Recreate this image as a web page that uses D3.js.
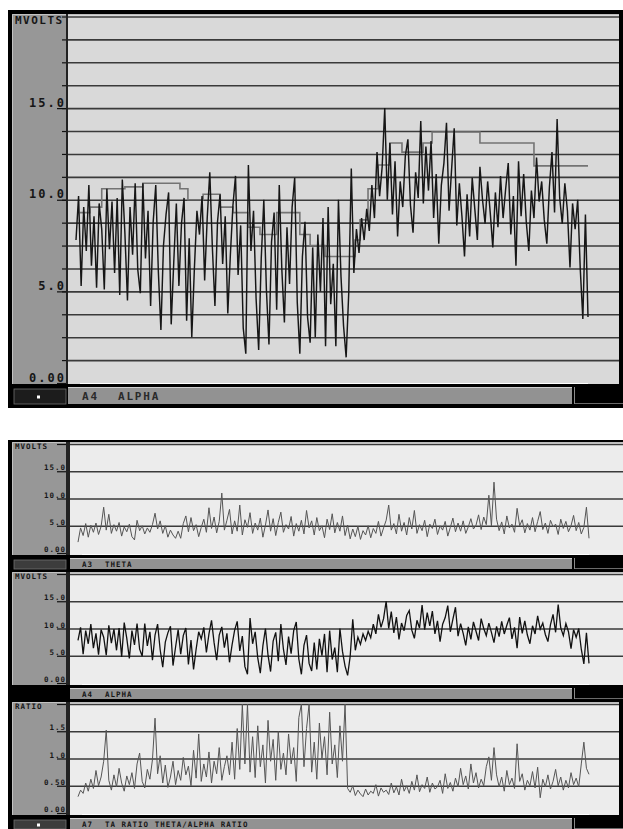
<!DOCTYPE html>
<html lang="en">
<head>
<meta charset="UTF-8" />
<title>EEG trend - A4 alpha, A3 theta, A7 ratio</title>
<script src="https://d3js.org/d3.v7.min.js"></script>
<style>
  body { margin: 0; background: #fff; }
  svg { display: block; font-family: 'DejaVu Sans Mono', monospace; }
  .lbl { fill: #161616; font-weight: bold; white-space: pre; }
</style>
</head>
<body>
<svg id="chart"></svg>
<script>
// ---- data (one value per sample) ----
const alpha = [
  7.8, 10.2, 5.3, 9.6, 7.2, 10.8, 6.4, 9.1, 5.2, 9.8,
  8.4, 5.1, 10.6, 7.3, 9.9, 6.0, 10.1, 4.8, 11.1, 8.2, 4.5, 9.6, 7.0, 10.9, 6.2,
  4.9, 10.9, 6.8, 9.4, 4.2, 8.8, 10.8, 6.1, 2.9, 7.5, 9.2, 10.4, 3.2, 6.6, 9.8, 5.3, 8.7, 10.1, 3.4, 7.9, 2.5, 6.2, 9.4,
  8.1, 10.2, 5.6, 9.0, 11.5, 7.4, 4.2, 8.8, 10.3, 6.5, 9.1, 3.8, 7.0, 9.7, 11.3, 5.9,
  8.6, 3.0, 1.6, 11.9, 7.2, 9.4, 4.6, 1.8, 6.8, 10.0, 5.1, 2.1, 7.7, 9.3, 4.0, 10.8, 6.2, 3.3, 8.5, 5.4,
  9.6, 11.2, 4.4, 1.6, 6.9, 8.8, 3.6, 2.2, 7.4, 2.5, 8.1, 5.0, 9.0, 2.0, 9.6, 4.3, 6.5, 2.0, 10.0, 5.8, 3.1, 1.4, 4.9,
  11.7, 6.0, 8.4, 7.1, 9.0, 7.8,
  9.5, 8.3, 10.8, 9.0, 12.6, 10.2, 11.8, 15.0, 10.0, 13.1, 9.2, 12.1, 8.0, 11.0, 9.6, 12.4, 13.3, 9.7, 8.2, 11.5, 10.1,
  14.3, 9.8, 12.9, 10.5, 13.2, 9.0, 11.4, 7.6, 10.8, 12.0, 14.2, 9.4, 11.7, 13.9, 8.6, 10.9, 9.1, 6.9, 10.3, 8.0,
  11.2, 9.5, 7.8, 11.8, 10.0, 8.7, 11.0, 9.3, 7.4, 10.4, 8.5, 11.3, 9.0, 10.6, 12.0, 8.1, 10.2, 6.4, 12.1, 9.1,
  11.4, 8.8, 7.2, 10.5, 9.0, 12.3, 9.9,
  11.0, 8.9, 7.6, 10.7, 12.6, 9.3, 14.4, 10.1, 8.7, 10.9, 9.4, 6.3, 9.8, 8.4, 10.0, 6.2, 3.5, 9.2, 3.6
];

const theta = [
  2.0, 4.6, 3.2, 5.4, 2.9, 5.1, 3.8, 5.5, 3.4, 4.9,
  8.4, 4.2, 7.1, 3.6, 5.2, 4.0, 5.6, 3.1, 4.8, 3.9,
  5.3, 3.0, 2.4, 6.0, 4.1, 5.0, 3.5, 4.6, 3.8, 5.2,
  7.3, 4.4, 5.9, 3.6, 5.0, 2.9, 4.2, 3.3, 2.7, 4.0,
  2.7, 5.4, 6.8, 3.9, 6.5, 4.1, 5.2, 3.0, 4.7, 6.2,
  3.8, 8.3, 4.5, 6.6, 3.7, 5.8, 11.0, 4.2, 6.0, 8.0,
  3.5, 5.9, 4.0, 8.8, 3.3, 6.1, 4.7, 7.4, 3.6, 5.5,
  4.2, 6.4, 2.9, 5.1, 7.9, 4.0, 6.3, 3.2, 5.6, 7.5,
  3.8, 5.2, 4.4, 6.7, 3.1, 5.4, 4.0, 6.0, 3.5, 7.8,
  4.6, 5.9, 3.3, 6.5, 4.1, 5.0, 2.8, 6.2, 4.3, 7.2,
  3.7, 5.6, 4.0, 6.8, 3.2, 5.1, 2.6, 4.4, 3.0, 4.9,
  2.5, 4.1, 3.3, 5.0, 2.8, 4.5, 3.6, 5.8, 3.1, 4.6,
  6.0, 8.8, 4.2, 5.4, 3.5, 7.1, 4.0, 5.6, 3.3, 6.5,
  4.4, 7.8, 3.6, 5.2, 4.1, 6.0, 3.0, 5.3, 4.5, 6.2,
  3.4, 5.0, 4.2, 5.8, 3.1, 4.7, 6.4, 3.9, 5.5, 4.0,
  5.9, 3.6, 4.8, 6.3, 4.4, 5.1, 7.0, 4.3, 6.6, 5.2,
  10.6, 5.0, 13.0, 6.2, 4.1, 5.7, 3.5, 6.8, 4.6, 5.3,
  3.8, 8.2, 5.0, 6.1, 3.7, 5.4, 4.2, 6.5, 3.9, 5.8,
  7.6, 4.3, 5.5, 3.6, 6.0, 4.8, 5.3, 3.4, 6.2, 4.5,
  5.8, 3.9, 5.0, 6.9, 4.1, 5.6, 3.5, 4.7, 8.4, 2.7
];

const ratio = [
  0.30, 0.42, 0.36, 0.55, 0.40, 0.62, 0.45, 0.78, 0.50, 0.66,
  0.95, 1.52, 0.60, 0.42, 0.70, 0.48, 0.82, 0.55, 0.40, 0.68,
  0.52, 0.74, 0.45, 0.90, 1.10, 0.58, 0.46, 0.80, 0.62, 0.98,
  1.74, 0.72, 1.05, 0.55, 0.88, 0.47, 0.66, 0.95, 0.52, 0.78,
  0.60, 1.02, 0.70, 0.86, 0.50, 1.15, 0.64, 1.45, 0.58, 0.90,
  0.66, 1.12, 0.55, 0.95, 0.72, 1.20, 0.60, 0.85, 1.05, 0.70,
  1.30, 0.62, 1.55, 0.80, 2.00, 0.90, 2.00, 0.75, 1.40, 0.65,
  1.60, 0.85, 1.25, 0.55, 1.70, 0.95, 1.35, 0.60, 1.50, 0.80,
  1.10, 0.70, 1.45, 0.90, 1.20, 0.58, 1.75, 2.00, 0.85, 1.55,
  2.00, 0.75, 1.30, 0.62, 1.65, 1.00, 1.40, 0.70, 1.85, 0.90,
  1.25, 0.65, 1.60, 0.95, 2.00, 0.45, 0.38, 0.50, 0.32, 0.42,
  0.35, 0.30, 0.44, 0.33, 0.40, 0.36, 0.52, 0.31, 0.46, 0.38,
  0.42, 0.34, 0.55, 0.37, 0.48, 0.33, 0.62, 0.40, 0.50, 0.36,
  0.58, 0.42, 0.70, 0.39, 0.52, 0.45, 0.66, 0.38, 0.55, 0.44,
  0.48, 0.60, 0.36, 0.72, 0.45, 0.56, 0.40, 0.64, 0.48, 0.82,
  0.52, 0.68, 0.44, 0.90, 0.55, 0.74, 0.46, 0.62, 0.50, 0.85,
  1.03, 0.60, 1.20, 0.70, 0.48, 0.66, 0.40, 0.78, 0.52, 0.64,
  0.45, 1.27, 0.58, 0.72, 0.42, 0.60, 0.50, 0.76, 0.46, 0.84,
  0.28, 0.62, 0.48, 0.70, 0.44, 0.58, 0.80, 0.50, 0.66, 0.42,
  0.60, 0.46, 0.74, 0.52, 0.64, 0.48, 0.90, 1.30, 0.82, 0.71
];

// gray trend line in the big panel: sample index where each level starts, and its value
const stepStart = [1.5, 5.4, 10, 19, 26, 40.4, 43.5, 49.4, 56, 61, 66.8, 71.5, 78, 87, 91, 96.8,
                   108.4, 110.4, 113.5, 117.4, 122, 126.7, 134.9, 138.4, 157, 178];
const stepValue = [9.3, 9.6, 10.6, 10.7, 10.9, 10.6, 10.0, 10.3, 9.6, 9.3, 8.5, 8.1, 9.3, 8.1, 7.5, 6.9,
                   7.8, 8.9, 10.6, 11.9, 13.1, 12.6, 13.1, 13.7, 13.1, 11.85];

const mvTickValues = [0, 5, 10, 15];
const mvTickLabels = ["0.00", "5.0", "10.0", "15.0"];
const ratioTickValues = [0, 0.5, 1, 1.5];
const ratioTickLabels = ["0.00", "0.50", "1.0", "1.5"];

const N = alpha.length;
const svg = d3.select("#chart").attr("width", 623).attr("height", 829);

const line = (x, y) => d3.line().x((d, i) => x(i)).y(d => y(d));

function drawPanel(p) {
  const g = svg.append("g");
  const y = d3.scaleLinear().domain(p.domain).range([p.yZero, p.yTop]);
  const x = d3.scaleLinear().domain([0, N - 1]).range(p.dataRange);

  // frame
  g.append("rect").attr("x", 8).attr("y", p.top).attr("width", 615).attr("height", p.height).attr("fill", "#000");

  // axis panel
  g.append("rect").attr("x", 12).attr("y", p.plotTop).attr("width", 54)
    .attr("height", p.plotBottom - p.plotTop).attr("fill", "#979797");
  g.append("path").attr("d", `M12.5,${p.plotBottom} V${p.plotTop + 0.5} H66`)
    .attr("stroke", "#c2c2c2").attr("fill", "none");

  // plot background
  g.append("rect").attr("x", p.x0).attr("y", p.plotTop).attr("width", p.x1 - p.x0)
    .attr("height", p.plotBottom - p.plotTop).attr("fill", p.bg);
  g.append("line").attr("x1", p.x0).attr("x2", p.x1).attr("y1", p.plotTop + 0.5).attr("y2", p.plotTop + 0.5)
    .attr("stroke", "#bdbdbd");

  // grid
  const grid = g.append("g").attr("transform", `translate(${p.x0},0)`)
    .call(d3.axisRight(y).tickValues(p.grid).tickSize(p.x1 - p.x0).tickFormat(""));
  grid.select(".domain").remove();
  grid.selectAll("line").attr("stroke", "#3a3a3a").attr("stroke-width", p.gridWidth);

  // separator between axis panel and plot
  g.append("rect").attr("x", 66).attr("y", p.plotTop).attr("width", p.x0 - 66)
    .attr("height", p.plotBottom - p.plotTop).attr("fill", "#222");

  // ticks
  const minor = g.append("g").attr("transform", "translate(66,0)")
    .call(d3.axisLeft(y).tickValues(p.minor).tickSize(4).tickFormat(""));
  minor.select(".domain").remove();
  minor.selectAll("line").attr("stroke", "#111").attr("stroke-width", 1.2);

  const major = g.append("g").attr("transform", "translate(66,0)")
    .call(d3.axisLeft(y).tickValues(p.tickValues).tickSize(9).tickFormat((d, i) => p.tickLabels[i]));
  major.select(".domain").remove();
  major.selectAll("line").attr("stroke", "#111").attr("stroke-width", 1.2);
  major.selectAll("text").attr("class", "lbl").attr("x", 0).attr("dy", -p.lift)
    .attr("text-anchor", "end").attr("font-size", p.font).attr("letter-spacing", p.spacing)
    .attr("font-family", "'DejaVu Sans Mono', monospace");

  g.append("text").attr("class", "lbl").attr("x", 15).attr("y", p.unitY)
    .attr("font-size", p.unitFont).attr("letter-spacing", p.unitSpacing).text(p.unit);

  // traces
  const clipId = "clip" + p.top;
  g.append("clipPath").attr("id", clipId).append("rect")
    .attr("x", p.x0).attr("y", p.plotTop + 1).attr("width", p.x1 - p.x0).attr("height", p.plotBottom - p.plotTop - 1);
  const traces = g.append("g").attr("clip-path", `url(#${clipId})`);

  if (p.step) {
    const pts = stepStart.map((s, k) => [s, stepValue[k]]);
    pts.push([N - 1, stepValue[stepValue.length - 1]]);
    traces.append("path").datum(pts)
      .attr("d", d3.line().x(d => x(d[0])).y(d => y(d[1])).curve(d3.curveStepAfter))
      .attr("fill", "none").attr("stroke", "#747474").attr("stroke-width", 1.6);
  }
  traces.append("path").datum(p.values).attr("d", line(x, y))
    .attr("fill", "none").attr("stroke", p.color).attr("stroke-width", p.width)
    .attr("stroke-linejoin", "miter");

  // bottom edge of plot
  g.append("line").attr("x1", p.x0 + 12).attr("x2", x(N - 1)).attr("y1", p.plotBottom - 0.5).attr("y2", p.plotBottom - 0.5)
    .attr("stroke", "#fff");

  if (p.rightBorder) {
    g.append("rect").attr("x", 619).attr("y", p.top).attr("width", 4).attr("height", p.plotBottom - p.top).attr("fill", "#000");
  }

  // channel bar
  g.append("rect").attr("x", p.x0).attr("y", p.barY).attr("width", 572 - p.x0).attr("height", p.barH).attr("fill", "#929292");
  g.append("line").attr("x1", p.x0).attr("x2", 572).attr("y1", p.barY + 0.5).attr("y2", p.barY + 0.5).attr("stroke", "#d0d0d0");
  g.append("line").attr("x1", 574.5).attr("x2", 574.5).attr("y1", p.barY).attr("y2", p.barY + p.barH).attr("stroke", "#8a8a8a");
  g.append("line").attr("x1", 575).attr("x2", 623).attr("y1", p.barY + p.barH - 0.5).attr("y2", p.barY + p.barH - 0.5).attr("stroke", "#6a6a6a");
  g.append("text").attr("class", "lbl").attr("x", 82).attr("y", p.barY + p.barTextY)
    .attr("font-size", p.barFont).attr("letter-spacing", p.barSpacing).attr("font-weight", p.barWeight)
    .style("fill", p.barColor).text(p.code);
  g.append("text").attr("class", "lbl").attr("x", p.nameX).attr("y", p.barY + p.barTextY)
    .attr("font-size", p.barFont).attr("letter-spacing", p.barSpacing).attr("font-weight", p.barWeight)
    .style("fill", p.barColor).text(p.name);

  // status box under the axis panel
  if (p.boxFill) {
    g.append("rect").attr("x", 14).attr("y", p.barY + 2).attr("width", 52).attr("height", p.barH - 2)
      .attr("fill", p.boxFill).attr("stroke", "#707070").attr("stroke-width", 0.8);
  }
  if (p.dot) {
    g.append("rect").attr("x", 37).attr("y", p.barY + p.barH / 2).attr("width", 3).attr("height", 3).attr("fill", "#fff");
  }
}

// big panel
drawPanel({
  top: 10, height: 398, plotTop: 14, plotBottom: 384, x0: 68, x1: 619,
  domain: [0, 20], yZero: 383, yTop: 16.5, dataRange: [76, 588], bg: "#d9d9d9",
  grid: d3.range(1.25, 20.01, 1.25), gridWidth: 1.6, minor: d3.range(1.25, 20.01, 1.25),
  tickValues: mvTickValues, tickLabels: mvTickLabels, font: 12, spacing: 2, lift: 2,
  unit: "MVOLTS", unitY: 24, unitFont: 11, unitSpacing: 1.5,
  values: alpha, color: "#161616", width: 1.45, step: true, rightBorder: true,
  barY: 387, barH: 17, barTextY: 13, barFont: 11, barSpacing: 1.8, barWeight: "normal", barColor: "#2a2a2a",
  code: "A4", name: "ALPHA", nameX: 118, boxFill: "#1c1c1c", dot: true
});

// three small panels
const small = {
  height: 130, x0: 70, x1: 623, dataRange: [78, 589], bg: "#ececec", gridWidth: 1.5,
  font: 7.5, spacing: 1, lift: 1.5, unitFont: 7.5, unitSpacing: 1,
  width: 1, barH: 11, barTextY: 9, barFont: 7.5, barSpacing: 1, barWeight: "bold", barColor: "#161616", nameX: 105
};
[
  { top: 440, unit: "MVOLTS", values: theta, color: "#555", code: "A3", name: "THETA",
    domain: [0, 20], grid: [5, 10, 15, 20], minor: [], tickValues: [...mvTickValues, 20], tickLabels: [...mvTickLabels, ""],
    boxFill: "#3c3c3c" },
  { top: 570, unit: "MVOLTS", values: alpha, color: "#111", code: "A4", name: "ALPHA",
    domain: [0, 20], grid: [5, 10, 15, 20], minor: [], tickValues: [...mvTickValues, 20], tickLabels: [...mvTickLabels, ""],
    width: 1.3 },
  { top: 700, unit: "RATIO", values: ratio, color: "#555", code: "A7", name: "TA RATIO THETA/ALPHA RATIO",
    domain: [0, 2], grid: [0.5, 1, 1.5, 2], minor: [], tickValues: [...ratioTickValues, 2], tickLabels: [...ratioTickLabels, ""],
    boxFill: "#3c3c3c", dot: true, rightBorder: true, x1: 619 }
].forEach(c => {
  const p = Object.assign({}, small, c);
  p.plotTop = p.top + 2;
  p.plotBottom = p.top + 115;
  p.yZero = p.top + 113;
  p.yTop = p.top + 4;
  p.unitY = p.top + 9;
  p.barY = p.top + 118;
  drawPanel(p);
});
</script>
</body>
</html>
